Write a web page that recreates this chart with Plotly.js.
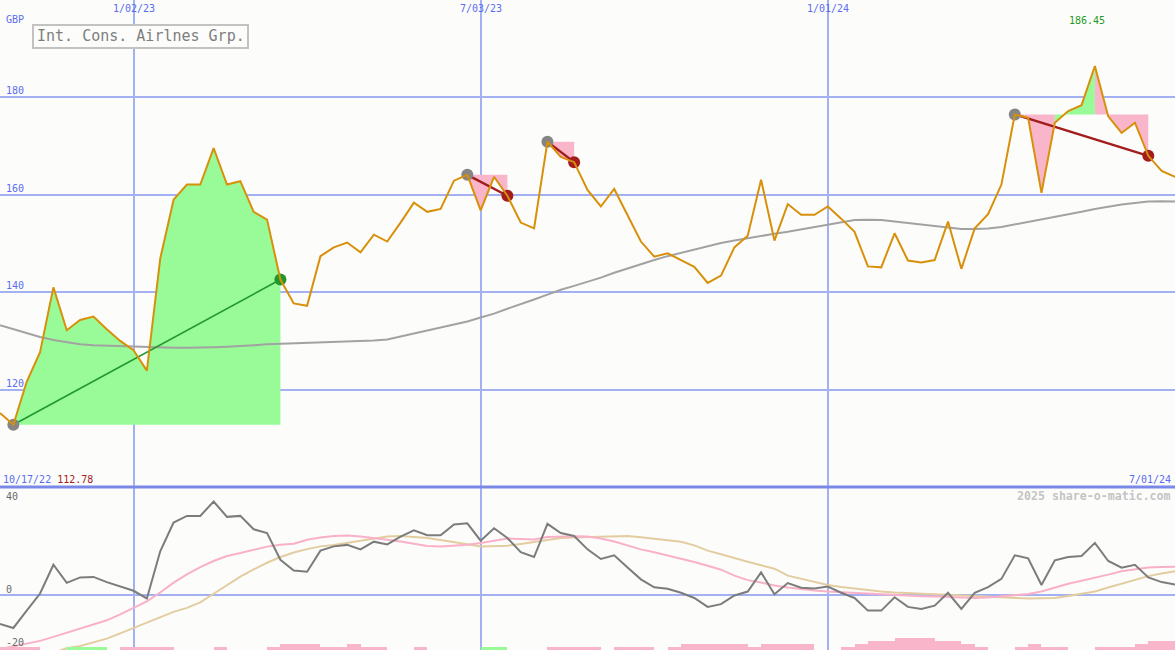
<!DOCTYPE html>
<html>
<head>
<meta charset="utf-8">
<script src="https://cdn.plot.ly/plotly-3.0.1.min.js"></script>
<style>
  html, body { margin: 0; padding: 0; background: #fcfdfb; }
  #chart { width: 1175px; height: 650px; }
</style>
</head>
<body>
<div id="chart"></div>
<script>
// Weekly closing prices (GBP), one value per week, first week on the left edge
const closeGBP = [
  115.2, 112.78, 121.6, 127.7, 141.0, 132.2, 134.3, 135.0, 132.4, 130.0,
  128.1, 123.9, 146.9, 159.0, 162.1, 162.1, 169.6, 162.1, 162.8, 156.5,
  154.9, 142.6, 137.7, 137.2, 147.4, 149.2, 150.2, 148.2, 151.8, 150.4,
  154.3, 158.4, 156.5, 157.1, 162.9, 164.1, 156.8, 163.7, 159.8, 154.3,
  153.1, 170.9, 167.8, 166.7, 161.0, 157.6, 161.2, 155.7, 150.4, 147.3,
  148.0, 146.6, 145.2, 141.9, 143.4, 149.2, 151.6, 163.1, 150.6, 158.1,
  155.9, 155.9, 157.6, 155.1, 152.4, 145.3, 145.1, 152.1, 146.5, 146.1,
  146.6, 154.5, 144.8, 153.1, 156.0, 162.1, 176.5, 175.8, 160.4, 174.8,
  177.2, 178.4, 186.45, 176.1, 172.7, 174.8, 168.0, 164.9, 163.7
];

// Long moving average of the close
const avgGBP = [
  133.2, 132.4, 131.6, 130.8, 130.2, 129.7, 129.3, 129.1, 129.0, 128.9,
  128.8, 128.7, 128.6, 128.6, 128.6, 128.6, 128.7, 128.8, 128.9, 129.1,
  129.3, 129.4, 129.4, 129.5, 129.7, 129.8, 129.9, 130.0, 130.1, 130.3,
  130.9, 131.5, 132.1, 132.7, 133.3, 134.0, 134.8, 135.6, 136.6, 137.5,
  138.5, 139.5, 140.5, 141.3, 142.1, 143.0, 144.0, 144.9, 145.8, 146.6,
  147.4, 148.1, 148.8, 149.5, 150.1, 150.6, 151.1, 151.6, 152.0, 152.4,
  152.9, 153.4, 153.9, 154.4, 154.8, 154.9, 154.8, 154.5, 154.2, 153.8,
  153.5, 153.2, 153.0, 153.0, 153.1, 153.4, 153.9, 154.5, 155.0, 155.4,
  155.9, 156.5, 157.1, 157.6, 158.0, 158.3, 158.6, 158.7, 158.6
];

// Momentum oscillator and its two smoothed signal lines
const momentum = [
  -11.7, -13.3, -6.3, 0.6, 12.2, 4.9, 7.1, 7.3, 5.2, 3.4,
  1.7, -1.4, 17.6, 29.2, 31.9, 31.9, 37.7, 31.5, 31.9, 26.5,
  25.0, 14.2, 9.9, 9.4, 17.9, 19.6, 20.2, 18.4, 21.5, 20.4,
  23.5, 26.1, 24.1, 24.1, 28.4, 28.9, 21.9, 26.9, 23.0, 17.3,
  15.3, 28.7, 25.0, 23.8, 18.4, 14.5, 16.0, 11.1, 6.3, 3.1,
  2.5, 0.9, -1.2, -4.8, -3.7, -0.2, 1.4, 9.1, 0.3, 4.8,
  2.9, 2.6, 3.4, 0.9, -1.2, -6.3, -6.3, -0.9, -4.8, -5.6,
  -4.3, 0.9, -5.6, 0.9, 3.2, 6.5, 16.0, 14.8, 4.0, 14.0,
  15.3, 15.7, 21.0, 13.7, 11.0, 12.2, 7.1, 5.2, 4.2
];
const momentumFast = [
  -21.8, -20.6, -19.6, -18.5, -16.9, -15.3, -13.6, -12.0, -10.2, -7.8,
  -5.2, -2.6, 1.0, 5.0, 8.3, 11.2, 13.7, 15.7, 16.9, 18.3,
  19.5, 20.3, 20.7, 22.3, 23.2, 23.8, 24.0, 23.6, 22.8, 22.3,
  21.6, 20.8, 19.8, 19.6, 19.9, 20.3, 21.0, 22.0, 22.8, 22.6,
  22.4, 23.4, 23.6, 23.7, 23.6, 22.8, 21.6, 20.0, 18.4, 17.2,
  16.0, 14.7, 13.3, 11.8, 10.2, 7.8, 6.0, 5.0, 3.8, 3.0,
  2.3, 1.8, 1.4, 1.1, 0.8, 0.5, 0.3, 0.0, -0.3, -0.5,
  -0.6, -0.8, -1.0, -1.2, -1.0, -0.6, -0.2, 0.4, 1.4, 3.0,
  4.5, 5.7, 6.8, 8.2, 9.6, 10.4, 11.1, 11.3, 11.4
];
const momentumSlow = [
  -30.0, -28.2, -26.6, -25.0, -23.3, -21.5, -20.6, -19.0, -17.6, -15.5,
  -13.3, -11.2, -8.8, -6.8, -5.2, -3.0, 0.5, 4.0, 7.4, 10.3,
  13.0, 15.3, 17.1, 18.5, 19.6, 20.2, 21.0, 21.8, 22.8, 23.6,
  23.8, 23.5, 23.0, 22.2, 21.5, 20.5, 19.6, 19.6, 19.9, 20.6,
  21.5, 22.3, 23.0, 23.2, 23.3, 23.5, 23.6, 23.8, 23.3, 22.7,
  22.1, 21.5, 20.0, 17.9, 16.4, 14.8, 13.4, 12.0, 10.6, 7.8,
  6.5, 5.2, 4.0, 3.2, 2.5, 1.9, 1.4, 1.0, 0.7, 0.6,
  0.3, 0.1, -0.2, -0.5, -0.8, -0.9, -1.2, -1.4, -1.4, -1.2,
  -0.4, 0.6, 1.4, 3.0, 4.5, 6.0, 7.6, 8.7, 9.6
];

// Weekly flow strength between consecutive closes (+ inflow, - outflow)
const flowBars = [
  -1, -1, -1, 0, 0, 1, 1, 1, 0, -1,
  -1, -1, -1, 0, 0, 0, -1, 0, 0, 0,
  -1, -2, -2, -2, -1, -1, -2, -1, -1, 0,
  0, -1, 0, 0, 0, 0, 1, 1, 0, 0,
  0, -1, -1, -1, -1, 0, -1, -1, -1, 0,
  -1, -2, -2, -2, -2, -2, -1, -2, -2, -2,
  -2, 0, 0, -1, -2, -3, -3, -4, -4, -4,
  -3, -3, -2, -1, 0, 0, -1, -2, -1, -1,
  0, 0, -1, -1, -1, -2, -3, -3
];

// Highlighted moves: [start week, end week]
const moves = [[1, 21], [35, 38], [41, 43], [76, 86]];

// Axis labels
const dateTickIdx = [10, 36, 62];
const dateTickText = ['1/02/23', '7/03/23', '1/01/24'];
const priceTicks = [120, 140, 160, 180];
const momTicks = [40, 0, -20];
const firstDate = '10/17/22';
const lastDate = '7/01/24';
const stockName = 'Int. Cons. Airlnes Grp.';
const currency = 'GBP';
const credit = '2025 share-o-matic.com';

// ---- page geometry ----
const W = 1175, H = 650, SPLIT = 487;
const px = x => x / W;
const py = y => 1 - y / H;

const BG = '#fcfdfb';
const GRID = '#a3b1f2';
const BLUE_TXT = '#5a6cf2';
const MONO = 'DejaVu Sans Mono, Liberation Mono, monospace';
const UP_FILL = '#98fb98', DOWN_FILL = '#f9b5c9';
const UP_LINE = '#22962a', DOWN_LINE = '#a31d1d', START_DOT = '#858585';

const weeks = closeGBP.map((_, i) => i);

// ---- move shading: one trapezoid per week, coloured by where that week closed ----
const upX = [], upY = [], dnX = [], dnY = [];
const trendTraces = [], dotX = [], dotY = [], dotC = [];
moves.forEach(([a, b]) => {
  const base = closeGBP[a];
  for (let i = a; i < b; i++) {
    const up = closeGBP[i + 1] >= base;
    const X = up ? upX : dnX, Y = up ? upY : dnY;
    X.push(i, i, i + 1, i + 1, null);
    Y.push(base, closeGBP[i], closeGBP[i + 1], base, null);
  }
  const rising = closeGBP[b] > closeGBP[a];
  trendTraces.push({
    x: [a, b], y: [closeGBP[a], closeGBP[b]], type: 'scatter', mode: 'lines',
    line: { color: rising ? UP_LINE : DOWN_LINE, width: rising ? 1.6 : 2.4 },
    xaxis: 'x', yaxis: 'y', hoverinfo: 'skip'
  });
  dotX.push(a, b); dotY.push(closeGBP[a], closeGBP[b]);
  dotC.push(START_DOT, rising ? UP_LINE : DOWN_LINE);
});

const traces = [
  { x: upX, y: upY, type: 'scatter', mode: 'lines', fill: 'toself', fillcolor: UP_FILL,
    line: { width: 0, color: UP_FILL }, xaxis: 'x', yaxis: 'y', hoverinfo: 'skip' },
  { x: dnX, y: dnY, type: 'scatter', mode: 'lines', fill: 'toself', fillcolor: DOWN_FILL,
    line: { width: 0, color: DOWN_FILL }, xaxis: 'x', yaxis: 'y', hoverinfo: 'skip' },
  { x: weeks, y: avgGBP, type: 'scatter', mode: 'lines',
    line: { color: '#a2a2a2', width: 2 }, xaxis: 'x', yaxis: 'y' },
  // lower panel
  { x: weeks, y: momentumSlow, type: 'scatter', mode: 'lines',
    line: { color: '#e3cda0', width: 2 }, xaxis: 'x', yaxis: 'y2' },
  { x: weeks, y: momentumFast, type: 'scatter', mode: 'lines',
    line: { color: '#f9b0c8', width: 2 }, xaxis: 'x', yaxis: 'y2' },
  { x: weeks, y: momentum, type: 'scatter', mode: 'lines',
    line: { color: '#7c7c7c', width: 2 }, xaxis: 'x', yaxis: 'y2' },
  { x: flowBars.map((_, j) => j + 0.5), y: flowBars.map(v => Math.abs(v)), type: 'bar',
    width: 1, marker: { color: flowBars.map(v => v > 0 ? UP_FILL : DOWN_FILL), line: { width: 0 } },
    xaxis: 'x', yaxis: 'y3', hoverinfo: 'skip' },
  ...trendTraces,
  { x: dotX, y: dotY, type: 'scatter', mode: 'markers',
    marker: { size: 12, color: dotC, line: { width: 0 } }, xaxis: 'x', yaxis: 'y' },
  { x: weeks, y: closeGBP, type: 'scatter', mode: 'lines',
    line: { color: '#d8900a', width: 2 }, xaxis: 'x', yaxis: 'y' }
];

// ---- labels ----
const smallFont = (color, size) => ({ family: MONO, size: size || 10, color });
const annotations = [];
annotations.push({ xref: 'paper', yref: 'paper', x: px(4), y: py(19), xanchor: 'left', yanchor: 'middle',
  text: currency, showarrow: false, font: smallFont(BLUE_TXT) });
dateTickIdx.forEach((v, i) => annotations.push({
  xref: 'x', yref: 'paper', x: v, y: py(9), xanchor: 'center', yanchor: 'middle',
  text: dateTickText[i], showarrow: false, font: smallFont(BLUE_TXT) }));
priceTicks.forEach(v => annotations.push({
  xref: 'paper', yref: 'y', x: px(4), y: v, xanchor: 'left', yanchor: 'bottom', yshift: -1,
  text: String(v), showarrow: false, font: smallFont(BLUE_TXT) }));
const lowIdx = closeGBP.indexOf(Math.min(...closeGBP));
const highIdx = closeGBP.indexOf(Math.max(...closeGBP));
annotations.push({ xref: 'paper', yref: 'paper', x: px(1), y: py(479), xanchor: 'left', yanchor: 'middle',
  text: '<span style="color:' + BLUE_TXT + '">' + firstDate + '</span> <span style="color:#a51c1c">' +
        closeGBP[lowIdx].toFixed(2) + '</span>',
  showarrow: false, font: smallFont(BLUE_TXT) });
annotations.push({ xref: 'paper', yref: 'paper', x: px(1173), y: py(479), xanchor: 'right', yanchor: 'middle',
  text: lastDate, showarrow: false, font: smallFont(BLUE_TXT) });
annotations.push({ xref: 'x', yref: 'paper', x: highIdx, xshift: -8, y: py(21), xanchor: 'center', yanchor: 'middle',
  text: closeGBP[highIdx].toFixed(2), showarrow: false, font: smallFont('#1f9a1f') });
annotations.push({ xref: 'paper', yref: 'paper', x: px(1173), y: py(496), xanchor: 'right', yanchor: 'middle',
  text: '<b>' + credit + '</b>', showarrow: false, font: smallFont('#c4c4c4', 11.6) });
const momTickPx = [496, 589, 642];
momTicks.forEach((v, i) => annotations.push({
  xref: 'paper', yref: 'paper', x: px(4), y: py(momTickPx[i]), xanchor: 'left', yanchor: 'middle',
  text: String(v), showarrow: false, font: smallFont('#6a6a6a') }));
annotations.push({ xref: 'paper', yref: 'paper', x: px(140.5), y: py(36.5), xanchor: 'center', yanchor: 'middle',
  text: stockName, showarrow: false, font: smallFont('#7e7e7e', 15) });

const shapes = [
  { type: 'rect', xref: 'paper', yref: 'paper', x0: px(33), x1: px(248), y0: py(25), y1: py(48),
    fillcolor: BG, line: { color: '#c2c2c2', width: 2 }, layer: 'above' },
  { type: 'line', xref: 'paper', yref: 'paper', x0: 0, x1: 1, y0: py(SPLIT), y1: py(SPLIT),
    line: { color: '#7a89e8', width: 3 }, layer: 'above' }
];

const layout = {
  width: W, height: H,
  margin: { l: 0, r: 0, t: 0, b: 0, pad: 0 },
  paper_bgcolor: BG, plot_bgcolor: BG,
  showlegend: false, hovermode: false,
  xaxis: { range: [0, weeks.length - 1], tickvals: dateTickIdx, showticklabels: false, ticks: '',
    showgrid: true, gridcolor: GRID, gridwidth: 2, zeroline: false, showline: false, anchor: 'y' },
  yaxis: { domain: [py(SPLIT), 1], range: [100, 200], tickvals: priceTicks, showticklabels: false,
    ticks: '', showgrid: true, gridcolor: GRID, gridwidth: 2, zeroline: false, anchor: 'x' },
  yaxis2: { domain: [0, py(SPLIT + 1)], range: [-22.18, 43.14], tickvals: [0], showticklabels: false,
    ticks: '', showgrid: true, gridcolor: GRID, gridwidth: 2, zeroline: false, anchor: 'x' },
  yaxis3: { overlaying: 'y2', range: [0, 54], visible: false, showgrid: false, zeroline: false, anchor: 'x' },
  annotations, shapes, bargap: 0
};

Plotly.newPlot('chart', traces, layout, { displayModeBar: false, staticPlot: true });
</script>
</body>
</html>
